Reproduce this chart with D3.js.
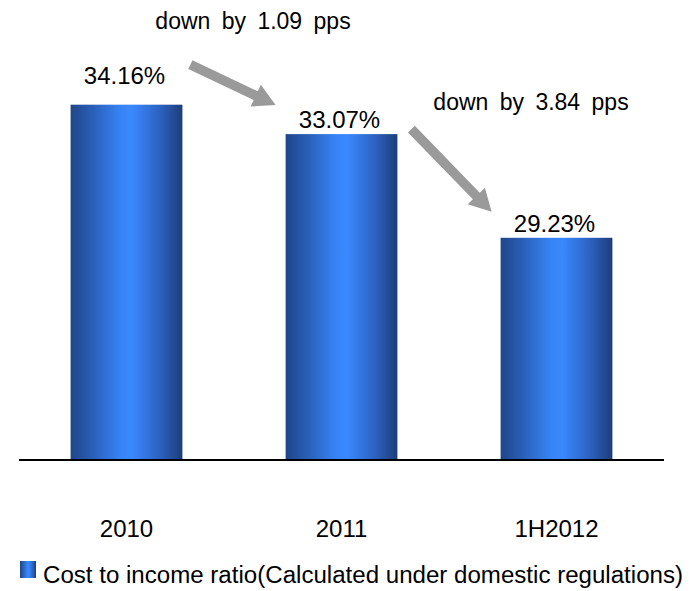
<!DOCTYPE html>
<html>
<head>
<meta charset="utf-8">
<script src="https://cdn.jsdelivr.net/npm/d3@7"></script>
<style>
  html, body { margin: 0; padding: 0; background: #fff; }
  svg { display: block; font-family: "Liberation Sans", Arial, sans-serif; }
</style>
</head>
<body>
<svg id="chart" width="696" height="591"></svg>
<script>
// Cost to income ratio by period (%)
const categories = ["2010", "2011", "1H2012"];
const ratios = [34.16, 33.07, 29.23];
const valueLabels = ["34.16%", "33.07%", "29.23%"];
const changeLabels = ["down by 1.09 pps", "down by 3.84 pps"];
const legendLabel = "Cost to income ratio(Calculated under domestic regulations)";

const svg = d3.select("#chart");
const left = 19, right = 664, base = 460;

const x = d3.scaleBand().domain(categories).range([left, right])
  .paddingInner(0.48).paddingOuter(0.24);
const y = d3.scaleLinear().domain([21, 35]).range([base, base - 14 * 27]);

// cylinder-like horizontal shading for the bars
const defs = svg.append("defs");
const grad = defs.append("linearGradient").attr("id", "barShade")
  .attr("x1", "0%").attr("x2", "100%").attr("y1", "0%").attr("y2", "0%");
[["0%", "#1f4689"], ["20%", "#2a5fb8"], ["45%", "#3784f6"], ["55%", "#3a88ff"],
 ["80%", "#2c62c0"], ["100%", "#1e3d78"]].forEach(([o, c]) =>
  grad.append("stop").attr("offset", o).attr("stop-color", c));

// bars
svg.append("g").selectAll("rect").data(ratios).join("rect")
  .attr("x", (d, i) => x(categories[i]))
  .attr("y", d => y(d))
  .attr("width", x.bandwidth())
  .attr("height", d => base - y(d))
  .attr("fill", "url(#barShade)");

// baseline
svg.append("line").attr("x1", left).attr("x2", right)
  .attr("y1", base).attr("y2", base)
  .attr("stroke", "#000").attr("stroke-width", 2);

// value labels above bars
const labelLift = [21, 6, 6];
svg.append("g").selectAll("text").data(ratios).join("text")
  .attr("x", (d, i) => x(categories[i]) + x.bandwidth() / 2 - 2)
  .attr("y", (d, i) => y(d) - labelLift[i])
  .attr("text-anchor", "middle")
  .attr("font-size", 24)
  .attr("fill", "#000")
  .text((d, i) => valueLabels[i]);

// category labels
svg.append("g").selectAll("text").data(categories).join("text")
  .attr("x", d => x(d) + x.bandwidth() / 2)
  .attr("y", 537)
  .attr("text-anchor", "middle")
  .attr("font-size", 24)
  .attr("fill", "#000")
  .text(d => d);

// change arrows between consecutive bars
function arrowShape(x1, y1, x2, y2) {
  const shaft = 4.8, headW = 12, headL = 22;
  const dx = x2 - x1, dy = y2 - y1, len = Math.hypot(dx, dy);
  const ux = dx / len, uy = dy / len, nx = -uy, ny = ux;
  const bx = x2 - ux * headL, by = y2 - uy * headL;
  const p = [
    [x1 + nx * shaft, y1 + ny * shaft],
    [bx + nx * shaft, by + ny * shaft],
    [bx + nx * headW, by + ny * headW],
    [x2, y2],
    [bx - nx * headW, by - ny * headW],
    [bx - nx * shaft, by - ny * shaft],
    [x1 - nx * shaft, y1 - ny * shaft]
  ];
  return "M" + p.map(q => q.join(",")).join("L") + "Z";
}
const arrows = [
  { from: 0, to: 1, tail: [8, -40], tip: [-10, -29] },
  { from: 1, to: 2, tail: [14, -5], tip: [-9, -26] }
];
svg.append("g").selectAll("path").data(arrows).join("path")
  .attr("d", a => arrowShape(
    x(categories[a.from]) + x.bandwidth() + a.tail[0], y(ratios[a.from]) + a.tail[1],
    x(categories[a.to]) + a.tip[0], y(ratios[a.to]) + a.tip[1]))
  .attr("fill", "#9a9a9a");

// change annotations
const notePos = [[253, 29], [531, 110]];
svg.append("g").selectAll("text").data(changeLabels).join("text")
  .attr("x", (d, i) => notePos[i][0])
  .attr("y", (d, i) => notePos[i][1])
  .attr("text-anchor", "middle")
  .attr("font-size", 23)
  .attr("word-spacing", 5)
  .attr("fill", "#000")
  .text(d => d);

// legend
const lg = svg.append("g");
lg.append("rect").attr("x", 20).attr("y", 561).attr("width", 16).attr("height", 17)
  .attr("fill", "url(#barShade)");
lg.append("text").attr("x", 43).attr("y", 583)
  .attr("font-size", 23)
  .attr("textLength", 640).attr("lengthAdjust", "spacingAndGlyphs")
  .attr("fill", "#000")
  .text(legendLabel);
</script>
</body>
</html>
